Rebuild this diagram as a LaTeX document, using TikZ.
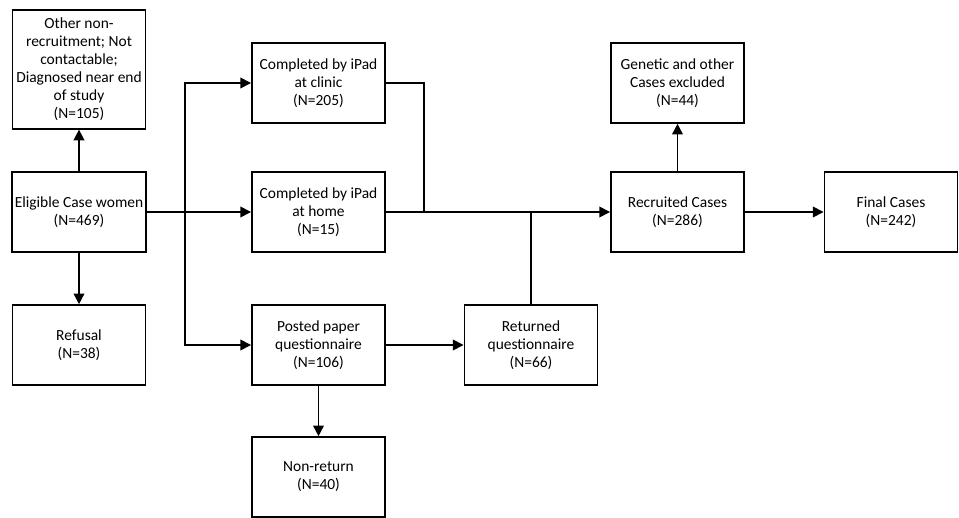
\documentclass[tikz,border=0pt]{standalone}
\usepackage{fontspec}
\setmainfont{Carlito}
\usetikzlibrary{arrows.meta}
\tikzset{
	box/.style = {draw, line width = 1.2pt, minimum width = 100pt, minimum height = 60pt, align = center, inner sep = 2pt, font = \fontsize{11.6}{13.5}\selectfont},
	arr/.style = {line width = 1.2pt, -{Triangle[length = 8pt, width = 8pt]}},
	lin/.style = {line width = 1.2pt}
}
\begin{document}
\begin{tikzpicture}[x = 0.75pt, y = -0.75pt]
		\useasboundingbox (0,0) rectangle (959,517);
		\node[box, minimum height = 89pt] (other) at (79,69.5) {Other non-\\recruitment; Not\\contactable;\\Diagnosed near end\\of study\\(N=105)};
		\node[box] (elig) at (79,212) {Eligible Case women\\(N=469)};
		\node[box] (refusal) at (79,345) {Refusal\\(N=38)};
		\node[box] (clinic) at (318.5,83) {Completed by iPad\\at clinic\\(N=205)};
		\node[box] (home) at (318.5,212) {Completed by iPad\\at home\\(N=15)};
		\node[box] (posted) at (318.5,345) {Posted paper\\questionnaire\\(N=106)};
		\node[box] (nonret) at (318.5,477) {Non-return\\(N=40)};
		\node[box] (returned) at (531,345) {Returned\\questionnaire\\(N=66)};
		\node[box] (recruited) at (677.5,212) {Recruited Cases\\(N=286)};
		\node[box] (genetic) at (677.5,83) {Genetic and other\\Cases excluded\\(N=44)};
		\node[box] (final) at (891,212) {Final Cases\\(N=242)};
		\coordinate (split) at (185,212);
		\coordinate (join) at (424,212);
		\draw[arr] (elig) -- (other);
		\draw[arr] (elig) -- (refusal);
		\draw[arr] (elig) -- (home);
		\draw[arr] (split) |- (clinic);
		\draw[arr] (split) |- (posted);
		\draw[lin] (clinic) -| (join);
		\draw[arr] (home) -- (recruited);
		\draw[arr] (posted) -- (returned);
		\draw[arr] (posted) -- (nonret);
		\draw[lin] (returned.north) -- (returned.north |- home);
		\draw[arr] (recruited) -- (genetic);
		\draw[arr] (recruited) -- (final);
	\end{tikzpicture}
\end{document}
